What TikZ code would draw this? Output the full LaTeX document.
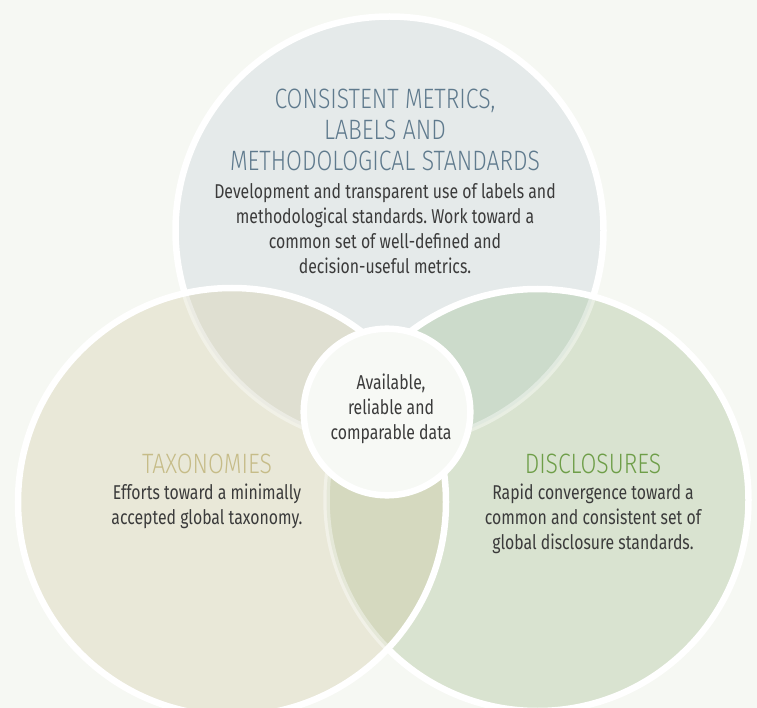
\documentclass[tikz,border=0pt]{standalone}
\usepackage{fontspec}
\setmainfont{Fira Sans}[FakeStretch=0.79]
\newfontfamily\headfont{Fira Sans Light}[FakeStretch=0.82]
\frenchspacing
\definecolor{bgc}{HTML}{F6F8F3}
\definecolor{topc}{HTML}{E5EAEA}
\definecolor{leftc}{HTML}{E9E8D8}
\definecolor{rightc}{HTML}{D9E3D0}
\definecolor{tlc}{HTML}{DFDFD1}
\definecolor{trc}{HTML}{CCDBCB}
\definecolor{lrc}{HTML}{D5D9BF}
\definecolor{centerc}{HTML}{F7F9F5}
\definecolor{headblue}{HTML}{5F7A8D}
\definecolor{headtan}{HTML}{C6BC88}
\definecolor{headgreen}{HTML}{6E9E48}
\definecolor{bodyc}{HTML}{3B3B3B}
\tikzset{
  ring/.style={draw=white, line width=6.5pt},
  faintring/.style={draw=white, draw opacity=0.4, line width=6.5pt},
  headtext/.style={font=\headfont\fontsize{28}{31}\selectfont, align=center, inner sep=0pt},
  bodytext/.style={font=\fontsize{20}{25}\selectfont, text=bodyc, align=center, inner sep=0pt}
}
\def\rT{214pt}
\def\rL{214pt}
\def\rR{211pt}
\def\rC{83.3pt}
\begin{document}
\begin{tikzpicture}[x=1pt,y=-1pt]
\fill[bgc] (0,0) rectangle (757,708);
\useasboundingbox (0,0) rectangle (757,708);
\coordinate (T) at (389.5,230.5);
\coordinate (L) at (232,502);
\coordinate (R) at (537.5,500);
\coordinate (C) at (387,412);
% top circle
\fill[topc] (T) circle[radius=\rT];
\draw[ring] (T) circle[radius=\rT];
% right circle
\fill[rightc] (R) circle[radius=\rR];
\begin{scope}
  \clip (T) circle[radius=\rT];
  \fill[trc] (R) circle[radius=\rR];
\end{scope}
\begin{scope}
  \clip (R) circle[radius=\rR];
  \draw[faintring] (T) circle[radius=\rT];
\end{scope}
\draw[ring] (R) circle[radius=\rR];
% left circle
\fill[leftc] (L) circle[radius=\rL];
\begin{scope}
  \clip (T) circle[radius=\rT];
  \fill[tlc] (L) circle[radius=\rL];
\end{scope}
\begin{scope}
  \clip (R) circle[radius=\rR];
  \fill[lrc] (L) circle[radius=\rL];
\end{scope}
\begin{scope}
  \clip (L) circle[radius=\rL];
  \draw[faintring] (T) circle[radius=\rT];
  \draw[faintring] (R) circle[radius=\rR];
\end{scope}
\draw[ring] (L) circle[radius=\rL];
% centre circle
\fill[centerc] (C) circle[radius=\rC];
\draw[ring] (C) circle[radius=\rC];
% texts
\node[headtext, text=headblue, anchor=north] (th) at (385,88.7) {CONSISTENT METRICS,\\LABELS AND\\METHODOLOGICAL STANDARDS};
\node[bodytext, anchor=north] (tb) at (385,183) {Development and transparent use of labels and\\methodological standards. Work toward a\\common set of well-defined and\\decision-useful metrics.};
\node[headtext, text=headtan, anchor=base] (lh) at (207,473) {TAXONOMIES};
\node[bodytext, anchor=north] (lb) at (207,484) {Efforts toward a minimally\\accepted global taxonomy.};
\node[headtext, text=headgreen, anchor=base] (rh) at (593,473) {DISCLOSURES};
\node[bodytext, anchor=north] (rb) at (593,484) {Rapid convergence toward a\\common and consistent set of\\global disclosure standards.};
\node[bodytext, anchor=north] (cb) at (391,374) {Available,\\reliable and\\comparable data};
\end{tikzpicture}
\end{document}
